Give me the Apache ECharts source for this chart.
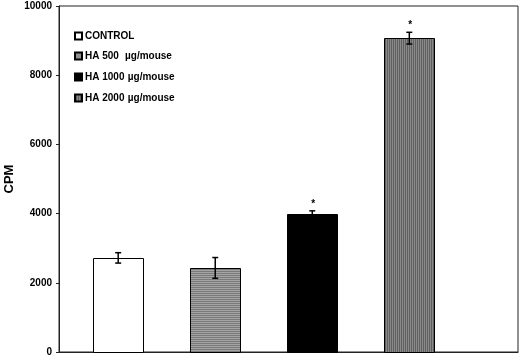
<!DOCTYPE html>
<html>
<head>
<meta charset="utf-8">
<script src="https://cdn.jsdelivr.net/npm/echarts@6/dist/echarts.min.js"></script>
<style>
  html, body { margin: 0; padding: 0; background: #fff; }
  #cn { width: 520px; height: 359px; }
</style>
</head>
<body>
<div id="cn"></div>
<script>
'use strict';

// data
const groups = ['CONTROL', 'HA 500', 'HA 1000', 'HA 2000'];
const units = ['', ' µg/mouse', 'µg/mouse', 'µg/mouse'];
const cpm = [2720, 2430, 3980, 9070];
const cpmErr = [150, 300, 100, 170];
const signif = [false, false, true, true];
const yTicks = [0, 2000, 4000, 6000, 8000, 10000];
const yTitle = 'CPM';

// striped fills (canvas patterns)
const stripe = (w, h, draw) => {
    const c = document.createElement('canvas');
    c.width = w;
    c.height = h;
    draw(c.getContext('2d'));
    return c;
};

const hLines = stripe(1, 2, ctx => {
    ctx.fillStyle = '#a4a4a4';
    ctx.fillRect(0, 0, 1, 1);
    ctx.fillStyle = '#7a7a7a';
    ctx.fillRect(0, 1, 1, 1);
});

const vLines = stripe(2, 1, ctx => {
    ctx.fillStyle = '#8a8a8a';
    ctx.fillRect(0, 0, 1, 1);
    ctx.fillStyle = '#606060';
    ctx.fillRect(1, 0, 1, 1);
});

const fills = [
    '#ffffff',
    { image: hLines, repeat: 'repeat' },
    '#000000',
    { image: vLines, repeat: 'repeat' }
];

const BAR_W = 50;

const chart = echarts.init(document.getElementById('cn'));

// bars drawn as custom rects so the value x axis keeps its exact range
const barSeries = groups.map((g, i) => ({
    name: g,
    type: 'custom',
    itemStyle: {
        color: fills[i],
        borderColor: '#000',
        borderWidth: 1
    },
    encode: { x: 0, y: 1 },
    data: [[i, cpm[i]]],
    renderItem: (params, api) => {
        const base = api.coord([api.value(0), 0]);
        const top = api.coord([api.value(0), api.value(1)]);
        return {
            type: 'rect',
            shape: {
                x: Math.round(top[0] - BAR_W / 2) + 0.5,
                y: Math.round(top[1]) + 0.5,
                width: BAR_W,
                height: Math.round(base[1] - top[1])
            },
            style: {
                fill: fills[i],
                stroke: '#000',
                lineWidth: 1
            }
        };
    }
}));

const errData = cpm.map((v, i) => [i, v - cpmErr[i], v + cpmErr[i], signif[i] ? 1 : 0]);

const option = {
    animation: false,
    backgroundColor: '#fff',
    grid: {
        left: 59,
        right: 2,
        top: 6,
        bottom: 7,
        outerBoundsMode: 'none',
        show: true,
        borderColor: '#222',
        borderWidth: 1
    },
    // y axis title (axis name got clamped to the edge)
    graphic: [{
        type: 'text',
        x: 9,
        y: 179,
        rotation: Math.PI / 2,
        style: {
            text: yTitle,
            align: 'center',
            verticalAlign: 'middle',
            font: 'bold 13px Liberation Sans, Arial',
            fill: '#000'
        }
    }],
    legend: {
        orient: 'vertical',
        left: 69,
        top: 26,
        itemWidth: 7,
        itemHeight: 7,
        itemGap: 9,
        icon: 'rect',
        data: groups,
        formatter: name => {
            const u = units[groups.indexOf(name)];
            return u ? `{a|${name}} {b|${u}}` : `{a|${name}}`;
        },
        textStyle: {
            padding: [0, 0, 0, -2],
            rich: {
                a: {
                    fontFamily: 'Liberation Sans, Arial',
                    fontWeight: 'bold',
                    fontSize: 10,
                    color: '#000'
                },
                b: {
                    fontFamily: 'Liberation Sans, Arial',
                    fontWeight: 'bold',
                    fontSize: 10,
                    color: '#000'
                }
            }
        }
    },
    xAxis: {
        type: 'value',
        min: -0.61,
        max: 4.12,
        axisLine: { show: true, onZero: false, lineStyle: { color: '#222', width: 1 } },
        axisTick: { show: false },
        axisLabel: { show: false },
        splitLine: { show: false }
    },
    yAxis: {
        type: 'value',
        min: yTicks[0],
        max: yTicks[yTicks.length - 1],
        interval: 2000,
        axisLine: { show: true, onZero: false, lineStyle: { color: '#222', width: 1 } },
        axisTick: { show: true, length: 3, lineStyle: { color: '#222' } },
        axisLabel: {
            margin: 7,
            formatter: v => String(v),
            fontFamily: 'Liberation Sans, Arial',
            fontWeight: 'bold',
            fontSize: 10,
            color: '#000'
        },
        splitLine: { show: false }
    },
    series: barSeries.concat([{
        type: 'custom',
        name: 'err',
        z: 5,
        encode: { x: 0, y: [1, 2] },
        data: errData,
        renderItem: (params, api) => {
            const lo = api.coord([api.value(0), api.value(1)]);
            const hi = api.coord([api.value(0), api.value(2)]);
            const cap = 3;
            const st = { stroke: '#000', lineWidth: 1.5 };
            const kids = [
                { type: 'line', shape: { x1: lo[0], y1: lo[1], x2: hi[0], y2: hi[1] }, style: st },
                { type: 'line', shape: { x1: hi[0] - cap, y1: hi[1], x2: hi[0] + cap, y2: hi[1] }, style: st },
                { type: 'line', shape: { x1: lo[0] - cap, y1: lo[1], x2: lo[0] + cap, y2: lo[1] }, style: st }
            ];
            if (api.value(3)) {
                kids.push({
                    type: 'text',
                    style: {
                        text: '*',
                        x: hi[0] + 1,
                        y: hi[1] - 2,
                        align: 'center',
                        verticalAlign: 'bottom',
                        font: 'bold 10px Liberation Sans, Arial',
                        fill: '#000'
                    }
                });
            }
            return { type: 'group', children: kids };
        }
    }])
};

chart.setOption(option);
</script>
</body>
</html>
